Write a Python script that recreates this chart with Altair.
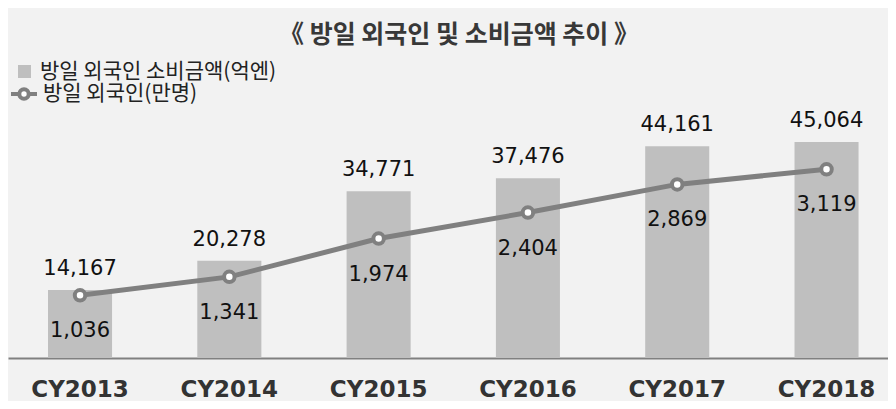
import altair as alt
import pandas as pd

years = ["CY2013", "CY2014", "CY2015", "CY2016", "CY2017", "CY2018"]
spending = [14167, 20278, 34771, 37476, 44161, 45064]
visitors = [1036, 1341, 1974, 2404, 2869, 3119]
bar_name = "방일 외국인 소비금액(억엔)"
line_name = "방일 외국인(만명)"
title_text = "《 방일 외국인 및 소비금액 추이 》"

df = pd.DataFrame({
    "year": years,
    "spending": spending,
    "visitors": visitors,
    "bar_s": [bar_name] * len(years),
    "line_s": [line_name] * len(years),
})

KR = "Noto Sans CJK KR"
NUM = "DejaVu Sans"
GRAY = "#808080"

x = alt.X(
    "year:N", sort=years,
    scale=alt.Scale(paddingInner=0.571, paddingOuter=0.2326, align=0.576),
    axis=alt.Axis(title=None, labelAngle=0, labelFont=NUM, labelFontWeight="bold",
                  labelFontSize=23, labelColor="#333333", domainColor=GRAY,
                  domainWidth=2, ticks=False, tickSize=0, labelPadding=20),
)
ybar = alt.Y("spending:Q", scale=alt.Scale(domain=[0, 52157], nice=False), axis=None)
yline = alt.Y("visitors:Q", scale=alt.Scale(domain=[0, 4132], nice=False), axis=None)

base = alt.Chart(df)

bars = base.mark_bar(color="#bfbfbf").encode(
    x=x, y=ybar,
    color=alt.Color("bar_s:N", scale=alt.Scale(range=["#bfbfbf"]),
                    legend=alt.Legend(title=None, orient="none", legendX=6, legendY=-47,
                                      symbolType="square", symbolSize=169,
                                      symbolStrokeWidth=0, labelLimit=500,
                                      labelFont=KR, labelFontSize=21, labelColor="#222222",
                                      labelOffset=5, padding=0)),
)
bar_text = base.mark_text(dy=-21, baseline="middle", font=NUM, fontSize=21, color="#111111").encode(
    x=x, y=ybar, text=alt.Text("spending:Q", format=","),
)

legend_path = ("M-1,0L-0.36,0M0.36,0L1,0M-0.36,0A0.36,0.36,0,1,1,0.36,0"
               "A0.36,0.36,0,1,1,-0.36,0Z")

line = base.mark_line(
    strokeWidth=5,
    point=alt.OverlayMarkDef(shape="circle", filled=True, fill="white",
                             stroke=GRAY, strokeWidth=4, size=110),
).encode(
    x=x, y=yline,
    stroke=alt.Stroke("line_s:N", scale=alt.Scale(range=[GRAY]),
                      legend=alt.Legend(title=None, orient="none", legendX=1, legendY=-29,
                                        symbolType=legend_path, symbolSize=676,
                                        symbolStrokeWidth=4, symbolFillColor="white",
                                        labelLimit=500,
                                        labelFont=KR, labelFontSize=21, labelColor="#222222",
                                        labelOffset=4, padding=0)),
)
line_text = base.mark_text(dy=36, baseline="middle", font=NUM, fontSize=21, color="#111111").encode(
    x=x, y=yline, text=alt.Text("visitors:Q", format=","),
)

chart = alt.layer(bars, bar_text, line, line_text).resolve_scale(
    y="independent", color="independent", stroke="independent"
).resolve_legend(color="independent", stroke="independent").properties(
    width=880, height=250,
    autosize=alt.AutoSizeParams(type="none"),
    padding={"left": 0, "top": 100, "right": 0, "bottom": 43},
    background="#f2f2f2",
    title=alt.TitleParams(title_text, font=KR, fontSize=25, fontWeight="bold",
                          color="#383838", anchor="middle", offset=13, dx=11),
).configure_view(stroke=None)

chart.save("out.html", embed_options={"renderer": "svg", "actions": False})
